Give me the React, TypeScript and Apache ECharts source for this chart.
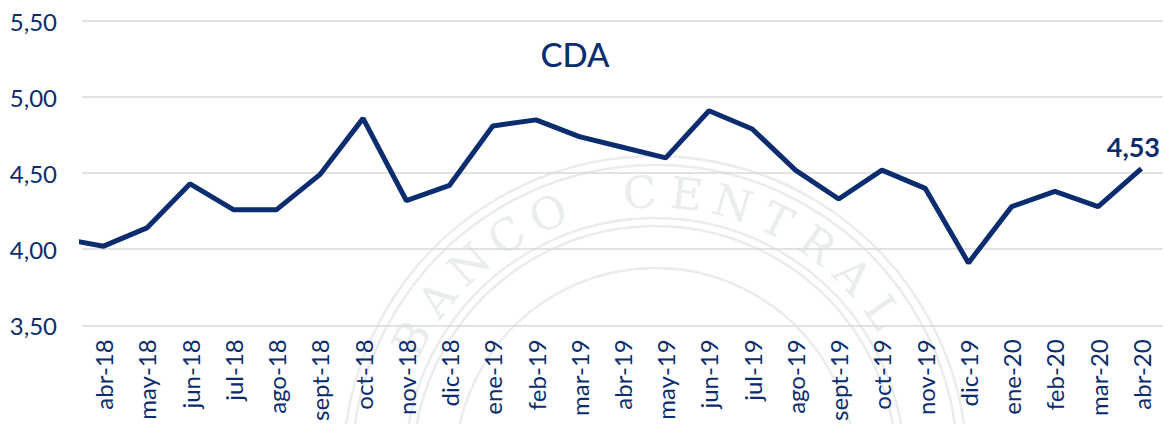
import React, { useEffect, useRef } from "react";
import * as echarts from "echarts";

const categories = [
  "abr-18", "may-18", "jun-18", "jul-18", "ago-18", "sept-18", "oct-18", "nov-18", "dic-18",
  "ene-19", "feb-19", "mar-19", "abr-19", "may-19", "jun-19", "jul-19", "ago-19", "sept-19",
  "oct-19", "nov-19", "dic-19", "ene-20", "feb-20", "mar-20", "abr-20",
];
// CDA values
const cdaValues = [
  4.02, 4.14, 4.43, 4.26, 4.26, 4.49, 4.86, 4.32, 4.42,
  4.81, 4.85, 4.74, 4.67, 4.60, 4.91, 4.79, 4.52, 4.33,
  4.52, 4.40, 3.91, 4.28, 4.38, 4.28, 4.53,
];
// previous month (mar-18), only its segment is visible at the left edge
const previousValue = 4.07;
const yTicks = [3.5, 4.0, 4.5, 5.0, 5.5];
const title = "CDA";
const sealText = "BANCO CENTRAL DE RESERVA DEL PERÚ · ";

const NAVY = "#0b2c6e";
const FONT = "Lato, 'Open Sans', sans-serif";

function buildSeal() {
  const cx = 655;
  const cy = 468;
  const faint = "#e9eded";
  const els: any[] = [];
  [312, 303, 250, 242, 200].forEach((r) => {
    els.push({
      type: "circle",
      shape: { cx, cy, r },
      style: { fill: "none", stroke: faint, lineWidth: 2.5 },
      silent: true,
      z: -10,
    });
  });
  const chars = sealText.split("");
  const startDeg = -152;
  const stepDeg = 9.8;
  const rText = 276;
  chars.forEach((ch, i) => {
    const phi = ((startDeg + i * stepDeg) * Math.PI) / 180;
    const x = cx + rText * Math.cos(phi);
    const y = cy + rText * Math.sin(phi);
    if (y > 395 || ch === " ") return;
    els.push({
      type: "text",
      x,
      y,
      rotation: -(phi + Math.PI / 2),
      silent: true,
      z: -10,
      style: {
        text: ch,
        fill: faint,
        font: "44px 'DejaVu Serif', 'Liberation Serif', serif",
        align: "center",
        verticalAlign: "middle",
      },
    });
  });
  return els;
}

export default function App() {
  const ref = useRef<HTMLDivElement>(null);

  useEffect(() => {
    document.body.style.margin = "0";
    if (!ref.current) return;
    const chart = echarts.init(ref.current, null, { renderer: "svg" });
    const lastIdx = cdaValues.length - 1;
    const seriesData: any[] = [[-1, previousValue]];
    cdaValues.forEach((v, i) => {
      if (i === lastIdx) {
        seriesData.push({
          value: [i, v],
          label: {
            show: true,
            position: "top",
            distance: 9,
            offset: [-8, 0],
            formatter: (p: any) => p.value[1].toFixed(2).replace(".", ","),
            color: NAVY,
            fontFamily: FONT,
            fontWeight: "bold",
            fontSize: 27,
          },
        });
      } else {
        seriesData.push([i, v]);
      }
    });

    chart.setOption({
      animation: false,
      backgroundColor: "#ffffff",
      title: {
        text: title,
        left: 570,
        top: 32,
        textAlign: "center",
        textStyle: { color: NAVY, fontFamily: FONT, fontSize: 33, fontWeight: 500 },
      },
      graphic: buildSeal(),
      grid: { left: 82, right: 1, top: 21, bottom: 98, containLabel: false },
      xAxis: [
        {
          type: "category",
          data: categories,
          boundaryGap: true,
          axisLine: { show: false },
          axisTick: { show: false },
          axisLabel: {
            rotate: 90,
            margin: 14,
            color: NAVY,
            fontFamily: FONT,
            fontSize: 24,
            interval: 0,
          },
        },
        {
          type: "value",
          show: false,
          min: -0.5,
          max: categories.length - 0.5,
        },
      ],
      yAxis: {
        type: "value",
        min: yTicks[0],
        max: yTicks[yTicks.length - 1],
        interval: 0.5,
        axisLine: { show: false },
        axisTick: { show: false },
        axisLabel: {
          margin: 25,
          color: NAVY,
          fontFamily: FONT,
          fontSize: 24,
          formatter: (v: number) => v.toFixed(2).replace(".", ","),
        },
        splitLine: { lineStyle: { color: "#d9d9d9", width: 1.5 } },
      },
      series: [
        {
          type: "line",
          xAxisIndex: 1,
          data: seriesData,
          showSymbol: true,
          symbol: "circle",
          symbolSize: 0.1,
          itemStyle: { color: "rgba(0,0,0,0)" },
          clip: true,
          lineStyle: { color: NAVY, width: 5 },
          z: 5,
        },
      ],
    });
    return () => chart.dispose();
  }, []);

  return <div ref={ref} style={{ width: 1164, height: 424 }} />;
}
